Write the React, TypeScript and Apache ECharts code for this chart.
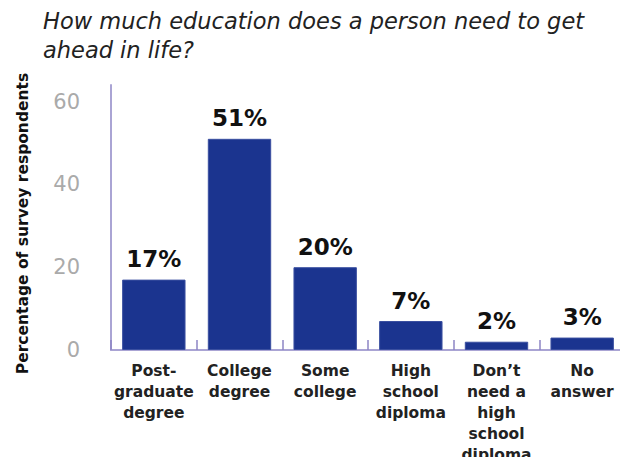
import React, { useEffect, useRef } from "react";
import * as echarts from "echarts";

const categories = [
  "Post-\ngraduate\ndegree",
  "College\ndegree",
  "Some\ncollege",
  "High\nschool\ndiploma",
  "Don’t\nneed a\nhigh\nschool\ndiploma",
  "No\nanswer",
];
const values = [17, 51, 20, 7, 2, 3];
const titleText = "How much education does a person need to get\nahead in life?";
const yAxisName = "Percentage of survey respondents";

export default function App() {
  const ref = useRef<HTMLDivElement>(null);
  useEffect(() => {
    if (!ref.current) return;
    const chart = echarts.init(ref.current, null, { renderer: "svg" });
    const font = "'DejaVu Sans', sans-serif";
    chart.setOption({
      animation: false,
      title: {
        text: titleText,
        left: 38,
        top: 1,
        textStyle: {
          fontFamily: font,
          fontStyle: "italic",
          fontWeight: "normal",
          fontSize: 22.5,
          lineHeight: 29,
          color: "#222",
        },
      },
      grid: { left: 111, right: 3, top: 85, bottom: 110, containLabel: false },
      xAxis: {
        type: "category",
        data: categories,
        axisLine: { show: true, lineStyle: { color: "#aaa4d4", width: 2 } },
        axisTick: { show: true, inside: true, length: 10, lineStyle: { color: "#8c84c4", width: 1.5 } },
        axisLabel: {
          interval: 0,
          margin: 10,
          fontFamily: font,
          fontSize: 15.5,
          fontWeight: "bold",
          lineHeight: 21,
          color: "#222",
        },
      },
      yAxis: {
        type: "value",
        min: 0,
        max: 64,
        interval: 20,
        name: yAxisName,
        nameLocation: "middle",
        nameRotate: 90,
        nameGap: 80,
        nameTextStyle: {
          fontFamily: font,
          fontSize: 15.5,
          fontWeight: "bold",
          color: "#111",
          padding: [0, 12, 0, 0],
        },
        axisLine: { show: true, lineStyle: { color: "#aaa4d4", width: 2 } },
        axisTick: { show: false },
        splitLine: { show: false },
        axisLabel: {
          showMaxLabel: false,
          margin: 31,
          fontFamily: font,
          fontSize: 21,
          color: "#aaa",
        },
      },
      series: [
        {
          type: "bar",
          data: values,
          barCategoryGap: "26%",
          itemStyle: { color: "#1b348f", borderColor: "#3a4fa0", borderWidth: 1 },
          label: {
            show: true,
            position: "top",
            distance: 9,
            formatter: "{c}%",
            fontFamily: font,
            fontSize: 23,
            fontWeight: "bold",
            color: "#111",
          },
        },
      ],
    });
    return () => chart.dispose();
  }, []);
  return <div ref={ref} style={{ width: 628, height: 465, margin: -8 }} />;
}
